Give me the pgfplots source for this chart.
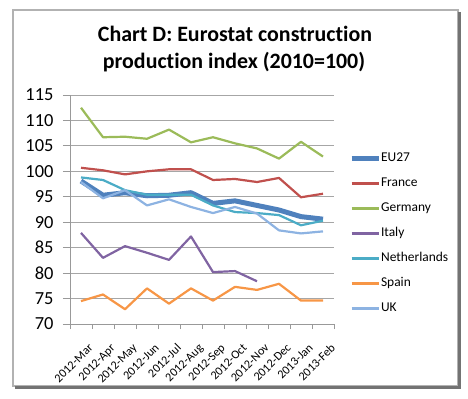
\documentclass[border=0pt]{standalone}
\usepackage{pgfplots}
\pgfplotsset{compat=1.18}
\usepackage{fontspec}
\setmainfont{Carlito}[Ligatures=NoCommon]
\definecolor{cEU}{HTML}{4F81BD}
\definecolor{cFR}{HTML}{C0504D}
\definecolor{cDE}{HTML}{9BBB59}
\definecolor{cIT}{HTML}{8064A2}
\definecolor{cNL}{HTML}{4BACC6}
\definecolor{cES}{HTML}{F79646}
\definecolor{cUK}{HTML}{8DB3E2}
\begin{document}
\begin{tikzpicture}
\useasboundingbox (0bp,0bp) rectangle (468bp,399bp);
\draw[line width=1.5bp, black!30] (13bp,389bp) rectangle (458bp,13bp);
\draw[line width=2.5bp, black!55] (459.5bp,387bp) -- (459.5bp,11.5bp) -- (15bp,11.5bp);
\node[anchor=base, font=\fontsize{22}{26}\selectfont\bfseries] at (235bp,357bp) {Chart D: Eurostat construction};
\node[anchor=base, font=\fontsize{22}{26}\selectfont\bfseries] at (234bp,330bp) {production index (2010=100)};
\begin{axis}[at={(70bp,75bp)}, anchor=south west, scale only axis,
  width=264bp, height=229bp,
  xmin=-0.5, xmax=11.5, ymin=70, ymax=115,
  axis x line*=bottom, axis y line*=left,
  axis line style={black!40, line width=0.8bp},
  ytick={70,75,...,115}, ymajorgrids,
  grid style={black!35, line width=0.8bp},
  xtick={0,...,11},
  xticklabels={2012-Mar,2012-Apr,2012-May,2012-Jun,2012-Jul,2012-Aug,2012-Sep,2012-Oct,2012-Nov,2012-Dec,2013-Jan,2013-Feb},
  minor xtick={-0.5,0.5,...,11.5},
  tick align=outside, major tick length=7bp, minor tick length=5bp,
  major x tick style={draw=none},
  minor x tick style={black!40, line width=0.8bp},
  major y tick style={black!40, line width=0.8bp},
  /pgf/number format/assume math mode=true,
  yticklabel style={font=\fontsize{18.5}{20}\selectfont, anchor=east, xshift=-6bp},
  xticklabel style={font=\fontsize{12.2}{14}\selectfont, xshift=7bp, yshift=-7bp, rotate=45, anchor=north east},
  legend style={at={(1.045,0.761)}, anchor=north west, draw=none, fill=none,
    font=\fontsize{13.5}{15}\selectfont, row sep=12bp,
    nodes={inner xsep=0bp, inner ysep=0bp, text height=10bp, text depth=3bp}},
  legend cell align=left,
  legend image code/.code={\draw[#1] (0bp,0bp) -- (27bp,0bp);},
  every axis plot/.append style={line width=2.2bp, line join=round, mark=none},
]
\addplot[cEU, line width=5bp] coordinates {(0,98.1)(1,95.3)(2,95.8)(3,95.2)(4,95.3)(5,95.8)(6,93.7)(7,94.2)(8,93.3)(9,92.4)(10,91.1)(11,90.6)};
\addlegendentry{EU27}
\addplot[cFR] coordinates {(0,100.7)(1,100.2)(2,99.4)(3,100.0)(4,100.4)(5,100.4)(6,98.3)(7,98.5)(8,97.9)(9,98.7)(10,94.9)(11,95.6)};
\addlegendentry{France}
\addplot[cDE] coordinates {(0,112.5)(1,106.7)(2,106.8)(3,106.4)(4,108.2)(5,105.7)(6,106.7)(7,105.5)(8,104.5)(9,102.5)(10,105.8)(11,102.9)};
\addlegendentry{Germany}
\addplot[cIT] coordinates {(0,87.9)(1,83.0)(2,85.3)(3,84.0)(4,82.6)(5,87.2)(6,80.2)(7,80.4)(8,78.4)};
\addlegendentry{Italy}
\addplot[cNL] coordinates {(0,98.8)(1,98.3)(2,96.3)(3,95.4)(4,95.4)(5,95.4)(6,93.3)(7,92.0)(8,91.8)(9,91.4)(10,89.4)(11,90.3)};
\addlegendentry{Netherlands}
\addplot[cES] coordinates {(0,74.5)(1,75.8)(2,72.9)(3,77.0)(4,74.0)(5,77.0)(6,74.6)(7,77.3)(8,76.7)(9,77.9)(10,74.6)(11,74.6)};
\addlegendentry{Spain}
\addplot[cUK] coordinates {(0,97.9)(1,94.7)(2,96.3)(3,93.3)(4,94.5)(5,93.0)(6,91.8)(7,93.0)(8,91.7)(9,88.4)(10,87.8)(11,88.2)};
\addlegendentry{UK}
\end{axis}
\end{tikzpicture}
\end{document}
